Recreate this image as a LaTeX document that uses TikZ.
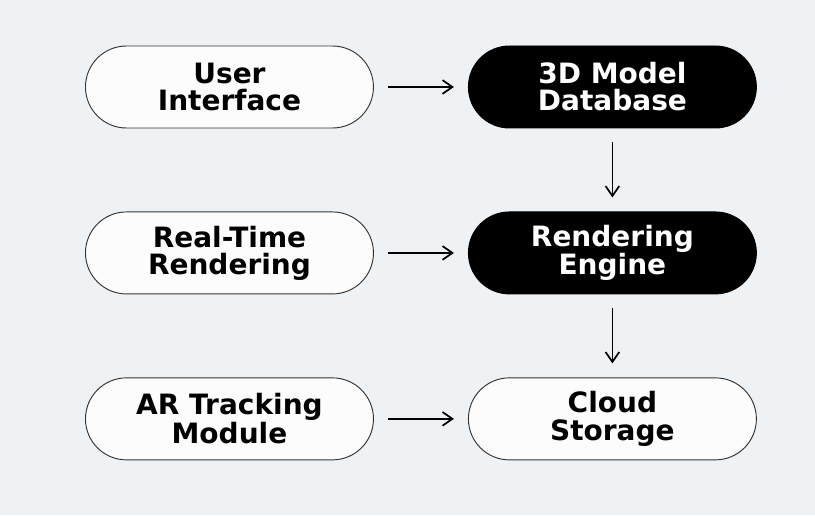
\documentclass[tikz,border=0pt]{standalone}
\usepackage{fontspec}
\usepackage{tikz}
\usetikzlibrary{arrows.meta,positioning}
\newfontfamily\pillfont{DejaVu Sans}
\definecolor{backdrop}{HTML}{EEF2F5}
\definecolor{outline}{HTML}{333333}
\definecolor{paper}{HTML}{FCFCFC}
\tikzset{
  pill/.style={
    draw=outline,
    line width=0.7pt,
    rounded corners=30.75pt,
    minimum width=216pt,
    minimum height=61.5pt,
    align=center,
    text=black,
    fill=paper,
    font=\pillfont\bfseries\fontsize{21}{20.3}\selectfont
  },
  darkpill/.style={
    pill,
    draw=black,
    fill=black,
    text=white
  },
  link/.style={
    -{Straight Barb[length=2.6mm,width=3.6mm,line width=1.3pt]},
    draw=black,
    line width=1.1pt,
    shorten <=10.5pt,
    shorten >=10.5pt
  }
}

\begin{document}
\begin{tikzpicture}
  \fill[backdrop] (0,0) rectangle (611.25pt,386.25pt);
  \useasboundingbox (0,0) rectangle (611.25pt,386.25pt);

  \node[pill] (ui) at (172.1pt,321pt) {User\\Interface};
  \node[darkpill, right=70.5pt of ui] (db) {3D Model\\Database};

  \node[darkpill, below=62.25pt of db] (engine) {Rendering\\Engine};
  \node[pill, left=70.5pt of engine] (realtime) {Real-Time\\Rendering};

  \node[pill, below=62.25pt of engine] (cloud) {Cloud\\Storage};
  \node[pill, left=70.5pt of cloud] (artrack) {AR Tracking\\Module};

  \draw[link] (ui.east) -- (db.west);
  \draw[link] (realtime.east) -- (engine.west);
  \draw[link] (artrack.east) -- (cloud.west);
  \draw[link] (db.south) -- (engine.north);
  \draw[link] (engine.south) -- (cloud.north);
\end{tikzpicture}
\end{document}
